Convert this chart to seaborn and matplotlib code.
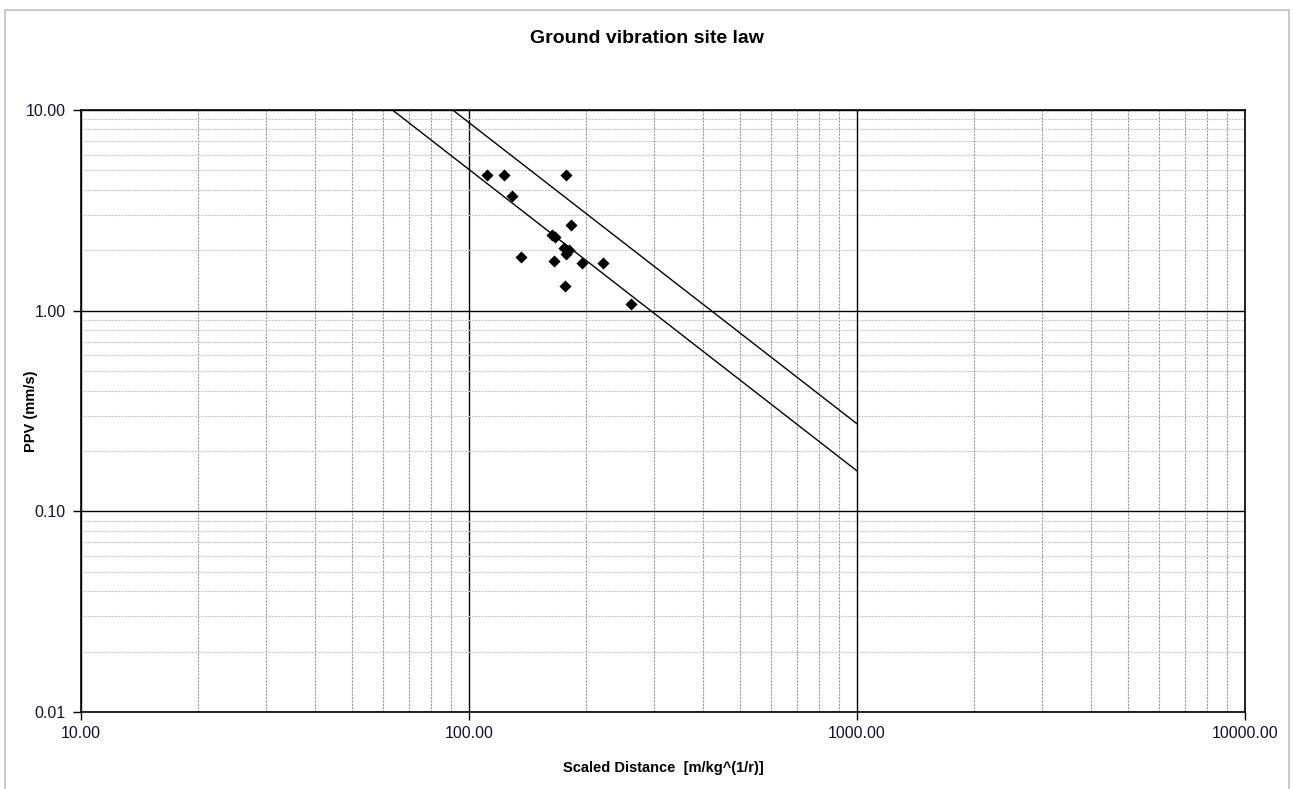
import numpy as np
import pandas as pd
import matplotlib
matplotlib.use("Agg")
import matplotlib.pyplot as plt
from matplotlib.ticker import LogLocator, FormatStrFormatter, NullFormatter
import seaborn as sns

# measured blasts (scaled distance, peak particle velocity)
scaled_distance = [111.0, 123.0, 177.8, 129.1, 182.9, 163.7, 166.6, 175.7,
                   181.1, 177.8, 136.1, 165.9, 195.5, 221.9, 176.8, 261.6]
ppv = [4.74, 4.74, 4.74, 3.73, 2.66, 2.38, 2.32, 2.05,
       2.01, 1.92, 1.85, 1.77, 1.73, 1.73, 1.32, 1.08]

# site law lines, read at their ends
upper_sd = [90.8, 1000.0]
upper_ppv = [10.0, 0.273]
lower_sd = [63.5, 1000.0]
lower_ppv = [10.0, 0.159]

sns.set_style("white")
plt.rcParams['font.family'] = ['Liberation Sans', 'DejaVu Sans']
plt.rcParams['text.color'] = 'black'

fig = plt.figure(figsize=(12.93, 7.89), dpi=100)
ax = fig.add_axes([0.0626, 0.0976, 0.9003, 0.763])

# light border around the whole chart, like the spreadsheet frame
fig.patches.append(plt.Rectangle((0.004, -0.01), 0.993, 0.997, transform=fig.transFigure,
                                 fill=False, edgecolor='#bfbfbf', linewidth=1.2))

ax.set_xscale('log')
ax.set_yscale('log')
ax.set_xlim(10, 10000)
ax.set_ylim(0.01, 10)

ax.xaxis.set_major_locator(LogLocator(base=10))
ax.yaxis.set_major_locator(LogLocator(base=10))
ax.xaxis.set_minor_locator(LogLocator(base=10, subs=np.arange(2, 10)))
ax.yaxis.set_minor_locator(LogLocator(base=10, subs=np.arange(2, 10)))
ax.xaxis.set_major_formatter(FormatStrFormatter('%.2f'))
ax.yaxis.set_major_formatter(FormatStrFormatter('%.2f'))
ax.xaxis.set_minor_formatter(NullFormatter())
ax.yaxis.set_minor_formatter(NullFormatter())

ax.grid(which='minor', axis='x', color='#9a9a9a', linestyle=(0, (2, 1)), linewidth=0.8)
ax.grid(which='minor', axis='y', color='#c8c8c8', linestyle=(0, (2, 1)), linewidth=0.8)
ax.grid(which='major', color='black', linestyle='-', linewidth=1.0)
ax.set_axisbelow(True)

sns.lineplot(x=upper_sd, y=upper_ppv, ax=ax, color='black', linewidth=1.0)
sns.lineplot(x=lower_sd, y=lower_ppv, ax=ax, color='black', linewidth=1.0)
pts = pd.DataFrame({'sd': scaled_distance, 'ppv': ppv})
sns.scatterplot(data=pts, x='sd', y='ppv', ax=ax, marker='D', color='black',
                s=38, edgecolor='black', linewidth=0, zorder=5)

for sp in ax.spines.values():
    sp.set_color('black')
    sp.set_linewidth(1.2)

ax.tick_params(which='major', direction='out', length=6, width=1, color='black',
               labelsize=11.5, labelcolor='#111133', bottom=True, left=True)
ax.tick_params(which='minor', length=0, bottom=False, left=False)
ax.tick_params(axis='x', pad=4)
ax.tick_params(axis='y', pad=5)

ax.set_xlabel('Scaled Distance  [m/kg^(1/r)]', fontsize=10.5, fontweight='bold', color='black')
ax.xaxis.set_label_coords(0.5, -0.082)
ax.set_ylabel('PPV (mm/s)', fontsize=10.5, fontweight='bold', color='black')
ax.yaxis.set_label_coords(-0.037, 0.5)
fig.text(0.5, 0.951, 'Ground vibration site law', ha='center', va='center',
         fontsize=14, fontweight='bold')

fig.savefig('out.png', dpi=100)
